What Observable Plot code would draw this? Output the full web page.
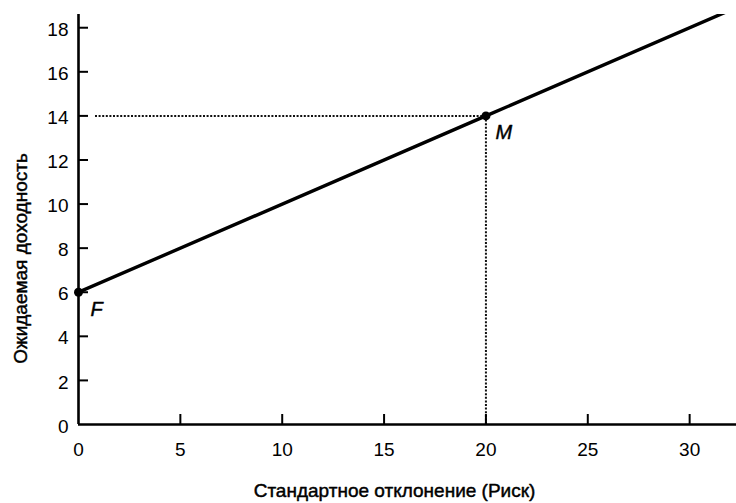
<!DOCTYPE html>
<html>
<head>
<meta charset="utf-8">
<script src="https://cdn.jsdelivr.net/npm/d3@7"></script>
<script src="https://cdn.jsdelivr.net/npm/@observablehq/plot@0.6"></script>
<style>
  html, body { margin: 0; padding: 0; background: #fff; }
  #chart svg { display: block; }
</style>
</head>
<body>
<div id="chart"></div>
<script>
const xTicks = [0, 5, 10, 15, 20, 25, 30];
const yTicks = [0, 2, 4, 6, 8, 10, 12, 14, 16, 18];
const xDomain = [0, 32.3];
const yDomain = [0, 18.6];
const lineX = [0, 20, 32.3];
const lineY = [6, 14, 18.92];
const pointNames = ["F", "M"];
const pointX = [0, 20];
const pointY = [6, 14];
const xLabel = "Стандартное отклонение (Риск)";
const yLabel = "Ожидаемая доходность";

const lineData = lineX.map((x, i) => ({x, y: lineY[i]}));
const points = pointNames.map((name, i) => ({name, x: pointX[i], y: pointY[i]}));
const M = points[1];

const font = "'Liberation Sans', Arial, sans-serif";
const textStyle = {fill: "#000", stroke: "#000", strokeWidth: 0.45};

const chart = Plot.plot({
  width: 736,
  height: 503,
  marginLeft: 78,
  marginRight: 0,
  marginTop: 14,
  marginBottom: 79,
  style: {background: "#fff", color: "#000", fontFamily: font},
  x: {domain: xDomain, axis: null},
  y: {domain: yDomain, axis: null},
  marks: [
    Plot.ruleY([M], {x1: 0, x2: "x", y: "y", insetLeft: 17, stroke: "#111", strokeWidth: 2, strokeDasharray: "2,1.6"}),
    Plot.ruleX([M], {x: "x", y1: 0, y2: "y", stroke: "#111", strokeWidth: 2, strokeDasharray: "2,1.6"}),
    Plot.line(lineData, {x: "x", y: "y", stroke: "#000", strokeWidth: 3.4, clip: true}),
    Plot.ruleX([0], {stroke: "#000", strokeWidth: 2.6}),
    Plot.ruleY([0], {stroke: "#000", strokeWidth: 2.6}),
    Plot.ruleY(yTicks.filter(d => d !== 0), {y: d => d, x1: xDomain[0], x2: xDomain[0], insetRight: -10, stroke: "#000", strokeWidth: 2}),
    Plot.ruleX(xTicks.filter(d => d !== 0), {x: d => d, y1: yDomain[0], y2: yDomain[0], insetTop: -10, stroke: "#000", strokeWidth: 2}),
    Plot.axisY(yTicks, {anchor: "left", tickSize: 0, tickPadding: 10, fontSize: 19, label: null, dy: 2, ...textStyle}),
    Plot.axisX(xTicks, {anchor: "bottom", tickSize: 0, tickPadding: 18, fontSize: 19, label: null, ...textStyle}),
    Plot.dot(points, {x: "x", y: "y", r: 4.5, fill: "#000"}),
    Plot.text(points, {x: "x", y: "y", text: "name", dx: 18, dy: 17, fontSize: 20, fontStyle: "italic", ...textStyle}),
    Plot.text([xLabel], {frameAnchor: "bottom", textAnchor: "middle", lineAnchor: "middle", dx: -13, dy: 66, fontSize: 19, ...textStyle}),
    Plot.text([yLabel], {frameAnchor: "left", textAnchor: "middle", lineAnchor: "middle", rotate: -90, dx: -58, dy: 39, fontSize: 19, ...textStyle})
  ]
});
document.getElementById("chart").appendChild(chart);
</script>
</body>
</html>
